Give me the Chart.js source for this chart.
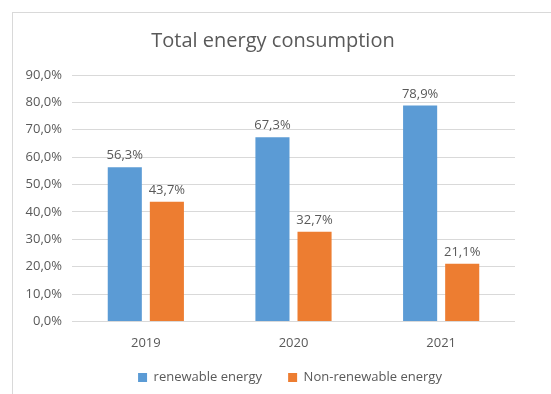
<!DOCTYPE html>
<html>
<head>
<meta charset="utf-8">
<script src="https://cdn.jsdelivr.net/npm/chart.js@4/dist/chart.umd.min.js"></script>
<style>
  body { margin: 0; background: #fff; }
  #box {
    position: absolute; left: 12px; top: 12px;
    width: 545px; height: 390px;
    border-left: 1px solid #d9d9d9; border-top: 1px solid #d9d9d9;
  }
</style>
</head>
<body>
<div id="box"><canvas id="myChart" width="539" height="381"></canvas></div>
<script>
// data
const years = ["2019", "2020", "2021"];
const renewable = [56.3, 67.3, 78.9];
const nonRenewable = [43.7, 32.7, 21.1];
const yTicks = [0, 10, 20, 30, 40, 50, 60, 70, 80, 90];

const textColor = "#595959";
const font = "'Open Sans', 'Noto Sans', sans-serif";

function pct(v) {
  return v.toFixed(1).replace(".", ",") + "%";
}

// labels on top of the bars
const barLabels = {
  id: "barLabels",
  afterDatasetsDraw(chart) {
    const ctx = chart.ctx;
    ctx.save();
    ctx.fillStyle = textColor;
    ctx.font = "13px " + font;
    ctx.textAlign = "center";
    ctx.textBaseline = "bottom";
    chart.data.datasets.forEach((ds, i) => {
      chart.getDatasetMeta(i).data.forEach((bar, j) => {
        ctx.fillText(pct(ds.data[j]), bar.x, bar.y - 5);
      });
    });
    ctx.restore();
  }
};

// legend padding is wide (for the gap between items), so take back
// some of the empty space it leaves above the labels, and nudge it right
const LEGEND_TRIM = 12;
const LEGEND_SHIFT = 17;
const legendTrim = {
  id: "legendTrim",
  beforeLayout(chart) {
    const lg = chart.legend;
    if (lg && !lg._trimmed) {
      const fit = lg.fit;
      lg.fit = function () {
        fit.call(this);
        this.height -= LEGEND_TRIM;
      };
      lg._trimmed = true;
    }
  },
  afterLayout(chart) {
    // move only the top back up, the box keeps its bottom so nothing is clipped
    chart.legend.top -= LEGEND_TRIM;
    chart.legend.left += LEGEND_SHIFT;
    chart.legend.right += LEGEND_SHIFT;
  }
};

const config = {
  type: "bar",
  data: {
    labels: years,
    datasets: [
      {
        label: "renewable energy",
        backgroundColor: "#5b9bd5",
        data: renewable,
        categoryPercentage: 0.57,
        barPercentage: 0.81
      },
      {
        label: "Non-renewable energy",
        backgroundColor: "#ed7d31",
        data: nonRenewable,
        categoryPercentage: 0.57,
        barPercentage: 0.81
      }
    ]
  },
  options: {
    responsive: false,
    animation: false,
    layout: { padding: { left: 0, right: 19, top: 8, bottom: 0 } },
    plugins: {
      title: {
        display: true,
        text: "Total energy consumption",
        color: textColor,
        font: { family: font, size: 20, weight: "normal" },
        padding: { top: 8, bottom: 22 }
      },
      legend: {
        position: "bottom",
        labels: {
          color: textColor,
          font: { family: font, size: 13 },
          boxWidth: 9,
          boxHeight: 9,
          padding: 26
        }
      },
      tooltip: { enabled: false }
    },
    scales: {
      x: {
        grid: { display: false },
        border: { display: false },
        ticks: { color: textColor, font: { family: font, size: 13 }, padding: 6 }
      },
      y: {
        min: 0,
        max: 90,
        afterBuildTicks(scale) {
          scale.ticks = yTicks.map(v => ({ value: v }));
        },
        afterFit(scale) {
          scale.width = 59;
        },
        grid: { color: "#d9d9d9", drawTicks: false },
        border: { display: false },
        ticks: {
          color: textColor,
          font: { family: font, size: 13 },
          padding: 10,
          callback: v => pct(v)
        }
      },
      // empty strip on the right, keeps the title centred on the frame
      yRight: {
        position: "right",
        grid: { display: false },
        border: { display: false },
        ticks: { display: false },
        afterFit(scale) {
          scale.width = 18;
        }
      }
    }
  },
  plugins: [barLabels, legendTrim]
};

var myChart = new Chart(document.getElementById("myChart"), config);
</script>
</body>
</html>
